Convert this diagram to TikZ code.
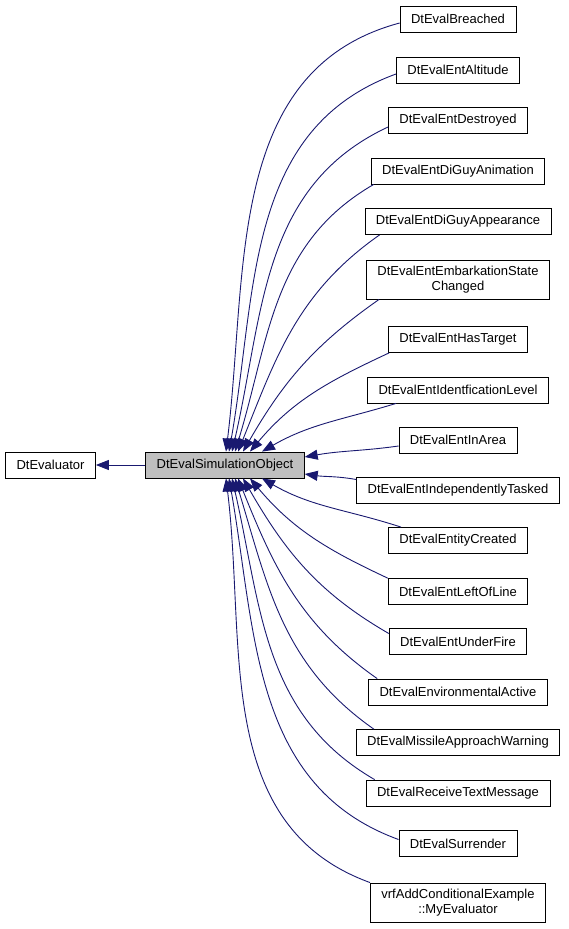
\documentclass[tikz,border=0pt]{standalone}
\usepackage{fontspec}
\setmainfont{Liberation Sans}
\usetikzlibrary{arrows.meta}
\definecolor{midnight}{HTML}{191970}
\definecolor{grey75}{HTML}{BFBFBF}
\begin{document}
\begin{tikzpicture}[x=1pt,y=1pt,
  cls/.style={draw=black,line width=0.8pt,fill=white,inner xsep=11pt,inner ysep=6pt,
    minimum height=26pt,align=center,font=\fontsize{13}{15}\selectfont},
  link/.style={midnight,line width=0.9pt,-{Triangle[length=13pt,width=10pt]}}]
\useasboundingbox (0,0) rectangle (568,-929);
\node[cls] (eval) at (50.5,-465) {DtEvaluator};
\node[cls,fill=grey75] (sim) at (225,-465) {DtEvalSimulationObject};
\foreach \n/\y/\txt in {c1/19/DtEvalBreached, c2/70/DtEvalEntAltitude,
  c3/120/DtEvalEntDestroyed, c4/171/DtEvalEntDiGuyAnimation,
  c5/221.5/DtEvalEntDiGuyAppearance, c6/279.5/{DtEvalEntEmbarkationState\\Changed},
  c7/339.5/DtEvalEntHasTarget, c8/390/DtEvalEntIdentficationLevel,
  c9/440/DtEvalEntInArea, c10/490.5/DtEvalEntIndependentlyTasked,
  c11/540.5/DtEvalEntityCreated, c12/591.5/DtEvalEntLeftOfLine,
  c13/641.5/DtEvalEntUnderFire, c14/692/DtEvalEnvironmentalActive,
  c15/742.5/DtEvalMissileApproachWarning, c16/793/DtEvalReceiveTextMessage,
  c17/843.5/DtEvalSurrender, c18/902.5/{vrfAddConditionalExample\\::MyEvaluator}}
  \node[cls] (\n) at (458,-\y) {\txt};
\draw[link] (sim) -- (eval);
% child to parent, start anchor / shift / out, end anchor / shift / in
\foreach \n/\a/\dx/\dy/\o/\t/\tx/\ty/\i in {
  c1/west/0/-4/195/north/1/0/83, c2/west/0/-4/200/north/4/0/80,
  c3/west/0/-7/205/north/7/0/77, c4/south west/3/0/210/north/10/0/73,
  c5/south west/15/0/215/north/13/0/68, c6/south west/13/0/215/north/18/0/60,
  c7/south west/1/0/205/north/25/0/50, c8/south west/29/0/197/north/37/0/30,
  c9/west/0/-6/188/east/0/8/10, c10/west/0/11/170/east/0/-9/-8,
  c11/north west/13/0/162/south/37/0/-30, c12/north west/0/0/155/south/25/0/-50,
  c13/west/0/8/150/south/18/0/-60, c14/north west/9/0/145/south/13/0/-68,
  c15/north west/18/0/145/south/10/0/-73, c16/north west/9/0/150/south/7/0/-77,
  c17/west/0/4/160/south/4/0/-80, c18/north west/0/0/160/south/1/0/-83}
  \draw[link] ([shift={(\dx,\dy)}]\n.\a) to[out=\o,in=\i] ([shift={(\tx,\ty)}]sim.\t);
\end{tikzpicture}
\end{document}
